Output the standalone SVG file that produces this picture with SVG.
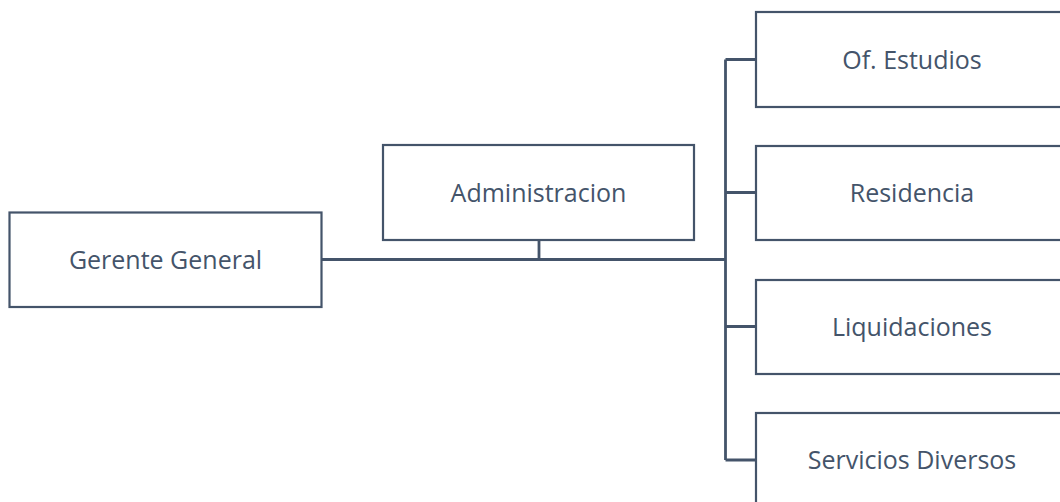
<svg xmlns="http://www.w3.org/2000/svg" width="1060" height="502" viewBox="0 0 1060 502">
<style>
.box{fill:#fff;stroke:#44546A;stroke-width:2.2}
.lbl{font-family:"Open Sans","Liberation Sans",sans-serif;font-size:25px;fill:#44546A;text-anchor:middle}
.con{fill:none;stroke:#44546A;stroke-width:2.8}
</style>
<rect width="1060" height="502" fill="#fff"/>
<g id="connectors">
<path class="con" d="M322 259.5H725.5M539 240V259.5M725.5 59.5V460M725.5 59.5H756M725.5 192.5H756M725.5 326.5H756M725.5 460H756"/>
</g>
<g id="gerente"><rect class="box" x="9.5" y="212.5" width="312" height="94.5"/><text class="lbl" x="165.5" y="268.5">Gerente General</text></g>
<g id="administracion"><rect class="box" x="383" y="145" width="311" height="95"/><text class="lbl" x="538.5" y="201.5">Administracion</text></g>
<g id="estudios"><rect class="box" x="756" y="12" width="312" height="95"/><text class="lbl" x="912" y="68.5">Of. Estudios</text></g>
<g id="residencia"><rect class="box" x="756" y="146" width="312" height="94"/><text class="lbl" x="912" y="201.5">Residencia</text></g>
<g id="liquidaciones"><rect class="box" x="756" y="280" width="312" height="94"/><text class="lbl" x="912" y="335.5">Liquidaciones</text></g>
<g id="servicios"><rect class="box" x="756" y="413" width="312" height="95"/><text class="lbl" x="912" y="468.5">Servicios Diversos</text></g>
</svg>
